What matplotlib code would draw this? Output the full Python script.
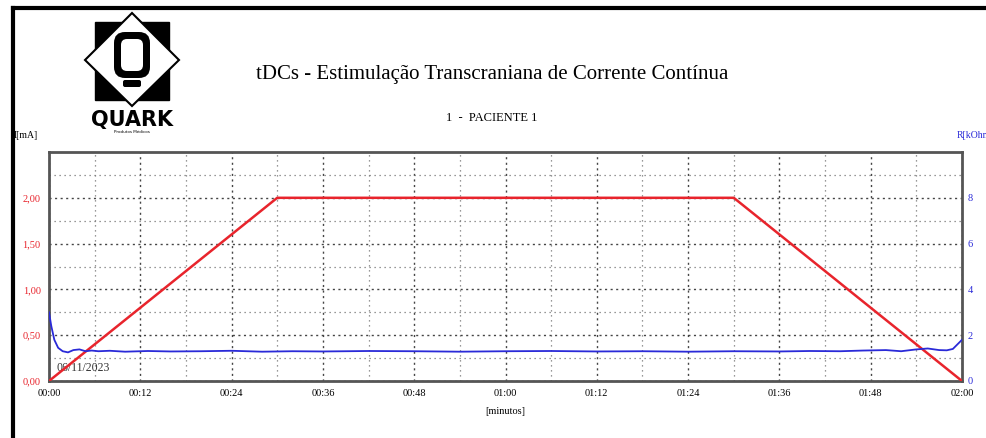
import numpy as np
import matplotlib.pyplot as plt
from matplotlib.patches import Rectangle, Polygon, FancyBboxPatch
from matplotlib.lines import Line2D

plt.rcParams['font.family'] = ['Liberation Serif', 'DejaVu Serif']

# current ramp (minutes, mA)
t_current = [0, 30, 90, 120]
current_ma = [0.0, 2.0, 2.0, 0.0]

# impedance trace (minutes, kOhm)
t_imp = [0, 0.3, 0.7, 1.2, 1.8, 2.5, 3.2, 4.0, 4.8, 5.6, 6.5, 8, 10, 13, 16, 20, 24, 28,
         32, 36, 42, 48, 54, 60, 66, 72, 78, 84, 90, 96, 100, 104, 107, 110, 112,
         114, 115.5, 117, 118, 118.8, 119.4, 120]
imp_kohm = [3.0, 2.4, 1.8, 1.45, 1.3, 1.25, 1.35, 1.38, 1.3, 1.33, 1.3, 1.32, 1.28, 1.31,
            1.29, 1.3, 1.32, 1.28, 1.3, 1.29, 1.31, 1.3, 1.28, 1.3, 1.31, 1.29, 1.3, 1.28,
            1.3, 1.29, 1.31, 1.3, 1.33, 1.35, 1.3, 1.38, 1.42, 1.35, 1.34, 1.4, 1.6, 1.8]

xticks = np.arange(0, 121, 12)
xlabels = ["00:00", "00:12", "00:24", "00:36", "00:48", "01:00", "01:12", "01:24", "01:36", "01:48", "02:00"]
yticks = [0.0, 0.5, 1.0, 1.5, 2.0]
ylabels = ["0,00", "0,50", "1,00", "1,50", "2,00"]
rticks = [0, 2, 4, 6, 8]

red = '#e8242c'
blue = '#2a2ad8'

fig = plt.figure(figsize=(9.86, 4.38), dpi=100)

ax = fig.add_axes([49/986, 1 - 381/438, 913/986, 229/438])
ax.plot(t_current, current_ma, color=red, lw=1.8, zorder=4)
ax.set_xlim(0, 120)
ax.set_ylim(0, 2.5)
ax.set_xticks(xticks)
ax.set_xticklabels(xlabels)
ax.set_yticks(yticks)
ax.set_yticklabels(ylabels, color=red)
ax.set_xticks(np.arange(6, 120, 12), minor=True)
ax.set_yticks([0.25, 0.75, 1.25, 1.75, 2.25], minor=True)
ax.tick_params(axis='both', which='both', length=0, labelsize=7.5, pad=6)
ax.grid(True, which='major', color='#444444', ls=(0, (1.5, 2.5)), lw=1.0)
ax.grid(True, which='minor', color='#777777', ls=(0, (1, 3)), lw=0.9)
for s in ax.spines.values():
    s.set_color('#555555')
    s.set_linewidth(2)
ax.set_xlabel("[minutos]", fontsize=7.5, labelpad=6)
ax.text(1, 0.08, "06/11/2023", fontsize=8.5, color='#333333', va='bottom')

ax2 = ax.twinx()
ax2.plot(t_imp, imp_kohm, color=blue, lw=1.3, zorder=3)
ax2.set_ylim(0, 10)
ax2.set_yticks(rticks)
ax2.set_yticklabels([str(v) for v in rticks], color=blue)
ax2.tick_params(axis='y', length=0, labelsize=7.5, pad=4)
for s in ax2.spines.values():
    s.set_visible(False)

fig.text(14/986, 1 - 135/438, "I[mA]", fontsize=7, va='center', ha='left')
fig.text(957/986, 1 - 135/438, "R[kOhm]", fontsize=7, color=blue, va='center', ha='left')

fig.text(492/986, 1 - 75/438, "tDCs - Estimulação Transcraniana de Corrente Contínua",
         fontsize=15, ha='center', va='center')
fig.text(492/986, 1 - 118/438, "1  -  PACIENTE 1", fontsize=9, ha='center', va='center')

# page border
fig.add_artist(Line2D([13/986, 1], [1 - 8/438, 1 - 8/438], color='black', lw=3,
                      transform=fig.transFigure))
fig.add_artist(Line2D([13/986, 13/986], [0, 1 - 8/438], color='black', lw=3,
                      transform=fig.transFigure))

# logo
lg = fig.add_axes([80/986, 1 - 138/438, 110/986, 130/438])
lg.set_xlim(80, 190)
lg.set_ylim(138, 8)
lg.axis('off')
lg.add_patch(Rectangle((95, 22), 74, 78, color='black'))
lg.add_patch(Polygon([(132, 13), (179, 60), (132, 106), (85, 60)], closed=True,
                     facecolor='white', edgecolor='black', lw=1.5))
lg.add_patch(FancyBboxPatch((114, 32), 36, 46, boxstyle='round,pad=0,rounding_size=11',
                            facecolor='black', edgecolor='none'))
lg.add_patch(FancyBboxPatch((121, 39), 22, 32, boxstyle='round,pad=0,rounding_size=6',
                            facecolor='white', edgecolor='none'))
lg.add_patch(FancyBboxPatch((123, 80), 18, 7, boxstyle='round,pad=0,rounding_size=2',
                            facecolor='black', edgecolor='none'))
lg.text(132, 120, "QUARK", fontsize=15, fontweight='bold', family='DejaVu Sans',
        ha='center', va='center')
lg.text(132, 132, "Produtos Médicos", fontsize=3, family='DejaVu Sans', ha='center', va='center')

fig.savefig("out.png", dpi=100)
